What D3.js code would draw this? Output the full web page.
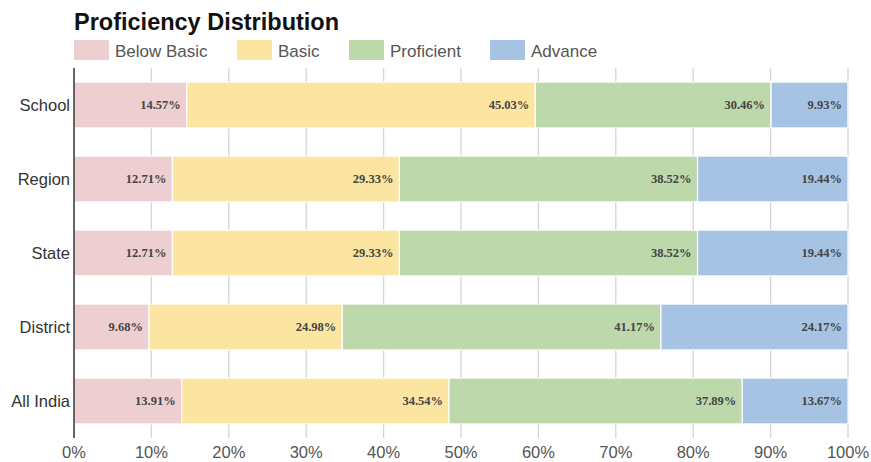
<!DOCTYPE html>
<html><head><meta charset="utf-8">
<script src="https://cdn.jsdelivr.net/npm/d3@7"></script>
<style>body{margin:0;background:#fff}</style>
</head><body>
<svg id="c" width="871" height="462"></svg>
<script>
const categories = ["School","Region","State","District","All India"];
const seriesNames = ["Below Basic","Basic","Proficient","Advance"];
const belowBasic = [14.57,12.71,12.71,9.68,13.91];
const basic      = [45.03,29.33,29.33,24.98,34.54];
const proficient = [30.46,38.52,38.52,41.17,37.89];
const advance    = [9.93,19.44,19.44,24.17,13.67];
const tickValues = [0,10,20,30,40,50,60,70,80,90,100];
const colors = ["#eecfd1","#fbe5a1","#bdd8ab","#a7c3e3"];

const svg = d3.select("#c");
const m = {left:74, right:23, top:68, bottom:25};
const W = 871, H = 462;
const x = d3.scaleLinear().domain([0,100]).range([m.left, W-m.right]);
const y = d3.scaleBand().domain(categories).range([m.top, m.top+370]).paddingInner(0.38).paddingOuter(0.19);

const rows = categories.map((c,i)=>({cat:c, "Below Basic":belowBasic[i], "Basic":basic[i], "Proficient":proficient[i], "Advance":advance[i]}));
const stacked = d3.stack().keys(seriesNames)(rows);

// grid
svg.append("g").selectAll("line").data(tickValues.slice(1)).join("line")
  .attr("x1",d=>x(d)).attr("x2",d=>x(d)).attr("y1",m.top).attr("y2",m.top+370)
  .attr("stroke","#d4d4d4").attr("stroke-width",1.3);

// bars
const g = svg.append("g");
stacked.forEach((s,si)=>{
  g.append("g").selectAll("rect").data(s).join("rect")
    .attr("x",d=>x(d[0])).attr("width",d=>x(d[1])-x(d[0]))
    .attr("y",d=>y(d.data.cat)).attr("height",y.bandwidth())
    .attr("fill",colors[si]).attr("stroke","#fff").attr("stroke-width",1.2);
  g.append("g").selectAll("text").data(s).join("text")
    .attr("x",d=>x(d[1])-6).attr("y",d=>y(d.data.cat)+y.bandwidth()/2)
    .attr("dy","0.35em").attr("text-anchor","end")
    .attr("font-family","'Liberation Serif','DejaVu Serif',serif").attr("font-weight","bold")
    .attr("font-size",12.5).attr("fill","#444")
    .text(d=>(d[1]-d[0]).toFixed(2)+"%");
});

// left axis
svg.append("line").attr("x1",m.left).attr("x2",m.left).attr("y1",m.top).attr("y2",m.top+370)
  .attr("stroke","#333").attr("stroke-width",1.5);
svg.append("g").selectAll("text").data(categories).join("text")
  .attr("x",m.left-4).attr("y",d=>y(d)+y.bandwidth()/2).attr("dy","0.35em")
  .attr("text-anchor","end").attr("font-family","'Liberation Sans',Arial,sans-serif")
  .attr("font-size",16.5).attr("fill","#333").text(d=>d);

// bottom tick labels
svg.append("g").selectAll("text").data(tickValues).join("text")
  .attr("x",d=>x(d)).attr("y",458).attr("text-anchor","middle")
  .attr("font-family","'Liberation Sans',Arial,sans-serif")
  .attr("font-size",16.5).attr("fill","#555").text(d=>d+"%");

// title
svg.append("text").attr("x",74).attr("y",30).attr("font-family","'Liberation Sans',Arial,sans-serif")
  .attr("font-weight","bold").attr("font-size",23.5).attr("fill","#111").text("Proficiency Distribution");

// legend
const legendX = [74,237,349,490];
const lg = svg.append("g").selectAll("g").data(seriesNames).join("g")
  .attr("transform",(d,i)=>`translate(${legendX[i]},40)`);
lg.append("rect").attr("width",35).attr("height",20).attr("fill",(d,i)=>colors[i]);
lg.append("text").attr("x",41).attr("y",16.5).attr("font-family","'Liberation Sans',Arial,sans-serif")
  .attr("font-size",17).attr("fill","#555").text(d=>d);
</script>
</body></html>
